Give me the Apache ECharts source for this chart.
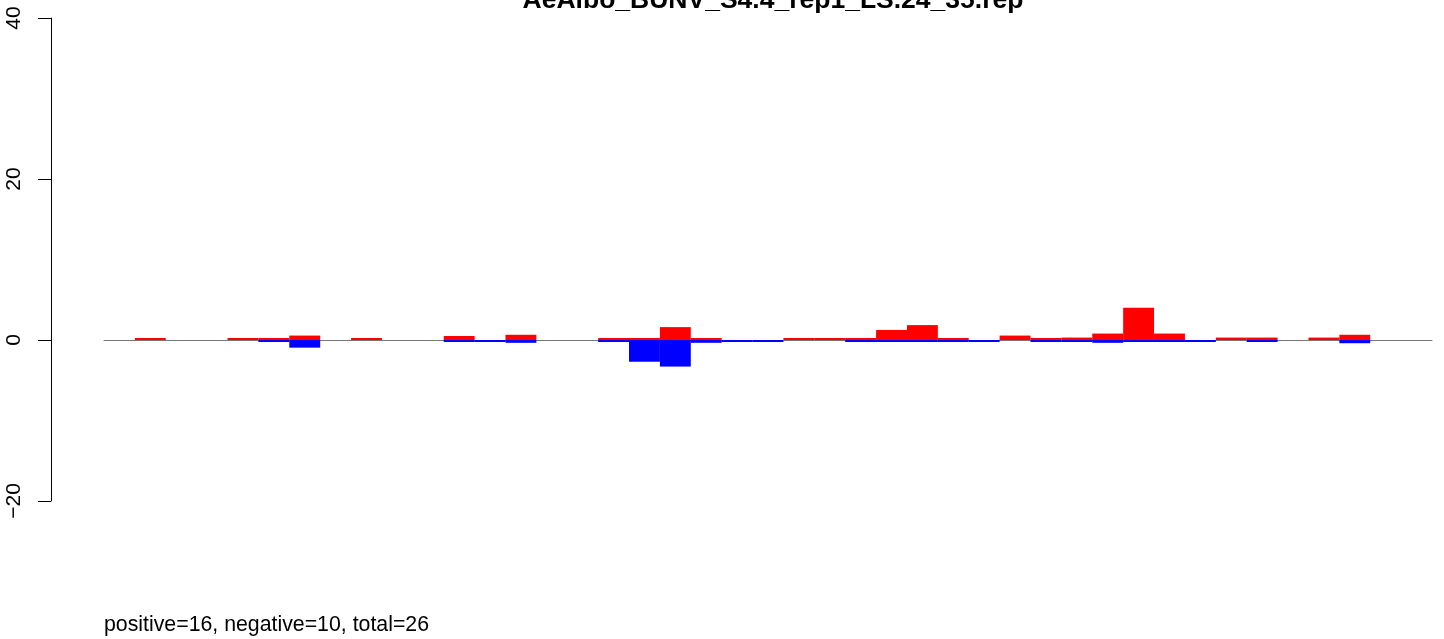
<!DOCTYPE html>
<html>
<head>
<meta charset="utf-8">
<script src="https://cdn.jsdelivr.net/npm/echarts@6/dist/echarts.min.js"></script>
<style>
html,body{margin:0;padding:0;background:#fff;}
#main{width:1444px;height:639px;}
</style>
</head>
<body>
<div id="main"></div>
<script>
// slot labels along x (hidden in the picture)
var slots = [];
for (var i = 1; i <= 43; i++) { slots.push(String(i)); }

// red = positive, blue = negative (null = no bar)
var posVals = [null, 0.1, null, null, 0.1, 0.25, 0.55, null, 0.1, null,
               null, 0.5, null, 0.65, null, null, 0.15, 0.15, 1.6, 0.15,
               null, null, 0.2, 0.05, 0.15, 1.25, 1.85, 0.15, null, 0.55,
               0.2, 0.3, 0.8, 4.0, 0.8, null, 0.3, 0.3, null, 0.3,
               0.65, null, null];
var negVals = [null, null, null, null, null, -0.1, -0.95, null, null, null,
               null, -0.1, -0.2, -0.35, null, null, -0.25, -2.7, -3.3, -0.35,
               -0.1, -0.1, null, null, -0.1, -0.25, -0.1, -0.1, -0.1, null,
               -0.25, -0.1, -0.35, -0.1, -0.2, -0.2, null, -0.1, null, null,
               -0.4, null, null];

var yTicks = [-20, 0, 20, 40];
var titleText = 'AeAlbo_BUNV_S4.4_rep1_LS.24_35.rep';
var footText = 'positive=16, negative=10, total=26';

var chart = echarts.init(document.getElementById('main'));
var font = 'Liberation Sans, Arial, Helvetica, sans-serif';

var option = {
    animation: false,
    backgroundColor: '#ffffff',
    title: {
        text: titleText,
        left: 768,
        textAlign: 'center',
        top: -18,
        textStyle: { fontFamily: font, fontSize: 26.5, fontWeight: 'bold', color: '#000' }
    },
    graphic: [{
        type: 'text',
        left: 104,
        top: 615,
        style: { text: footText, font: '21.3px ' + font, fill: '#000' }
    }],
    grid: { left: 104, right: 12, top: 18, bottom: 138, containLabel: false },
    xAxis: {
        type: 'category',
        data: slots,
        boundaryGap: true,
        axisLine: { show: true, onZero: true, lineStyle: { color: '#777777', width: 1 } },
        axisTick: { show: false },
        axisLabel: { show: false },
        splitLine: { show: false }
    },
    yAxis: {
        type: 'value',
        min: yTicks[0],
        max: yTicks[yTicks.length - 1],
        interval: 20,
        offset: 53,
        axisLine: { show: true, lineStyle: { color: '#000', width: 1 } },
        axisTick: { show: true, length: 13, lineStyle: { color: '#000' } },
        axisLabel: {
            rotate: 90,
            margin: 26,
            fontFamily: font,
            fontSize: 21,
            color: '#000',
            formatter: function (v) { return v < 0 ? '\u2212' + Math.abs(v) : String(v); }
        },
        splitLine: { show: false }
    },
    series: [
        {
            name: 'positive',
            type: 'bar',
            data: posVals,
            barWidth: '100%',
            barGap: '-100%',
            barMinHeight: 2,
            itemStyle: { color: '#ff0000' }
        },
        {
            name: 'negative',
            type: 'bar',
            data: negVals,
            barWidth: '100%',
            barGap: '-100%',
            barMinHeight: 2,
            itemStyle: { color: '#0000ff' }
        }
    ]
};

chart.setOption(option);
</script>
</body>
</html>
